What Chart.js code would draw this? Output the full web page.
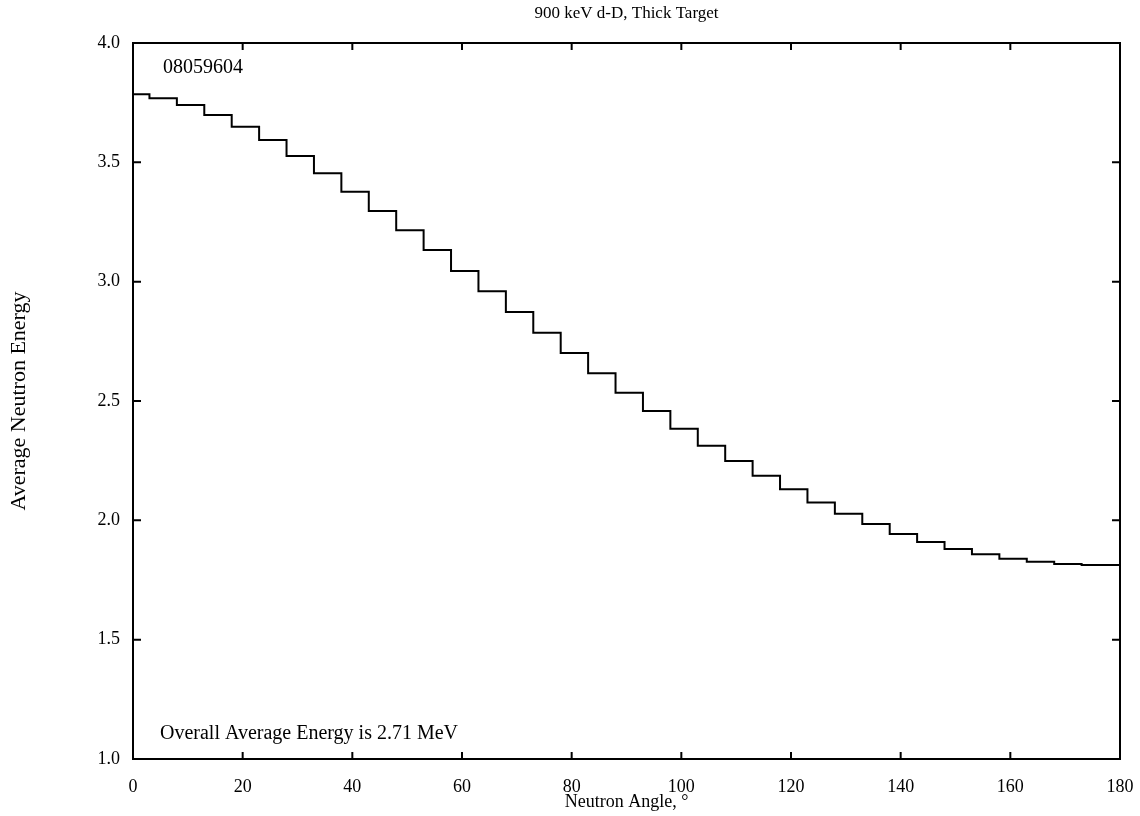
<!DOCTYPE html>
<html>
<head>
<meta charset="utf-8">
<script src="https://cdn.jsdelivr.net/npm/chart.js@4.4.1/dist/chart.umd.min.js"></script>
<style>
  body { margin: 0; background: #fff; }
  #myChart { display: block; }
</style>
</head>
<body>
<canvas id="myChart" width="1140" height="816"></canvas>
<script>
// step edges of the angle bins (degrees) and the average energy in each bin (MeV)
var binEdges = [0, 3, 8, 13, 18, 23, 28, 33, 38, 43, 48, 53, 58, 63, 68, 73, 78, 83, 88,
                93, 98, 103, 108, 113, 118, 123, 128, 133, 138, 143, 148, 153, 158, 163,
                168, 173, 178, 180];
var energies = [3.795, 3.785, 3.768, 3.740, 3.698, 3.649, 3.594, 3.527, 3.454, 3.377,
                3.296, 3.215, 3.133, 3.045, 2.960, 2.873, 2.786, 2.701, 2.616, 2.535,
                2.458, 2.384, 2.313, 2.249, 2.187, 2.130, 2.075, 2.028, 1.985, 1.943,
                1.909, 1.880, 1.858, 1.839, 1.826, 1.817, 1.813];
var xTicks = [0, 20, 40, 60, 80, 100, 120, 140, 160, 180];
var yTicks = [1.0, 1.5, 2.0, 2.5, 3.0, 3.5, 4.0];

var titleText = "900 keV d-D, Thick Target";
var runLabel = "08059604";
var noteText = "Overall Average Energy is 2.71 MeV";
var serif = "'Liberation Serif', 'DejaVu Serif', serif";

var points = [];
for (var i = 0; i < energies.length; i++) {
    points.push({x: binEdges[i], y: energies[i]});
}
points.push({x: binEdges[binEdges.length - 1], y: energies[energies.length - 1]});

// frame, inward ticks and the text inside the plot
var framePlugin = {
    id: 'frame',
    afterDraw: function(chart) {
        var c = chart.ctx, a = chart.chartArea;
        var xs = chart.scales.x, ys = chart.scales.y;
        c.save();
        c.strokeStyle = '#000';
        c.lineWidth = 2;
        c.strokeRect(a.left, a.top, a.right - a.left, a.bottom - a.top);
        c.beginPath();
        xTicks.forEach(function(v) {
            var px = xs.getPixelForValue(v);
            c.moveTo(px, a.bottom); c.lineTo(px, a.bottom - 7);
            c.moveTo(px, a.top); c.lineTo(px, a.top + 7);
        });
        yTicks.forEach(function(v) {
            var py = ys.getPixelForValue(v);
            c.moveTo(a.left, py); c.lineTo(a.left + 8, py);
            c.moveTo(a.right, py); c.lineTo(a.right - 8, py);
        });
        c.stroke();

        c.fillStyle = '#000';
        c.font = '17px ' + serif;
        c.textAlign = 'center';
        c.textBaseline = 'middle';
        c.fillText(titleText, (a.left + a.right) / 2, 14);

        c.font = '20px ' + serif;
        c.textAlign = 'left';
        c.fillText(runLabel, a.left + 30, a.top + 25);
        c.fillText(noteText, a.left + 27, a.bottom - 25);
        c.restore();
    }
};

var ctx = document.getElementById("myChart");
var myChart = new Chart(ctx, {
    type: 'line',
    data: {
        datasets: [{
            data: points,
            stepped: 'after',
            borderColor: '#000',
            borderWidth: 2,
            pointRadius: 0,
            fill: false
        }]
    },
    options: {
        responsive: false,
        animation: false,
        layout: { padding: { top: 43, right: 20, left: 0, bottom: 0 } },
        plugins: { legend: { display: false }, tooltip: { enabled: false } },
        scales: {
            x: {
                type: 'linear',
                min: 0, max: 180,
                afterFit: function(s) { s.height = 57; s.paddingRight = 0; },
                afterBuildTicks: function(s) { s.ticks = xTicks.map(function(v) { return {value: v}; }); },
                grid: { display: false },
                border: { display: false },
                ticks: { color: '#000', padding: 9, maxRotation: 0, font: { family: serif, size: 18 } },
                title: { display: true, text: 'Neutron Angle, °', color: '#000',
                         padding: { top: 0, bottom: 3 }, font: { family: serif, size: 18 } }
            },
            y: {
                min: 1, max: 4,
                afterFit: function(s) { s.width = 133; },
                afterBuildTicks: function(s) { s.ticks = yTicks.map(function(v) { return {value: v}; }); },
                grid: { display: false },
                border: { display: false },
                ticks: { color: '#000', padding: 5, font: { family: serif, size: 18 },
                         callback: function(v) { return v.toFixed(1); } },
                title: { display: true, text: 'Average Neutron Energy', color: '#000',
                         padding: { top: 6, bottom: 0 }, font: { family: serif, size: 22 } }
            }
        }
    },
    plugins: [framePlugin]
});
</script>
</body>
</html>
